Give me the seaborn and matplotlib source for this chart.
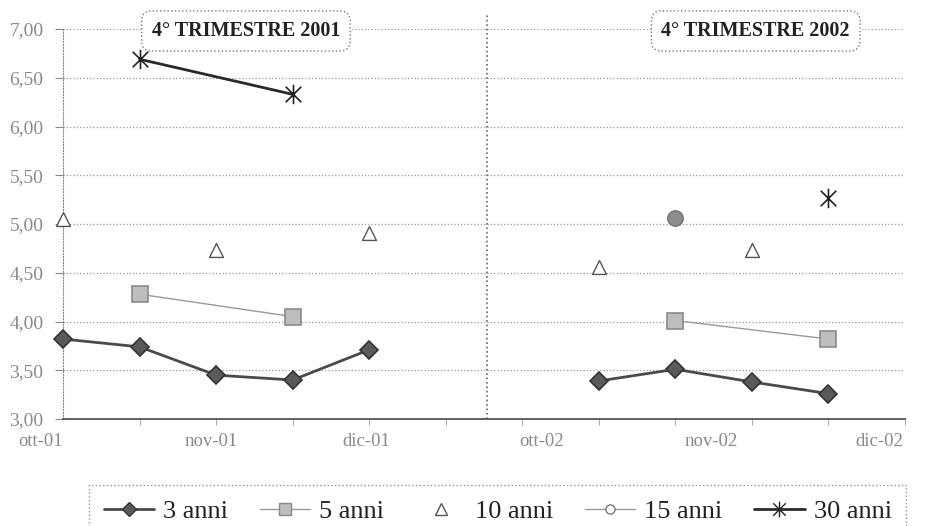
import numpy as np
import pandas as pd
import matplotlib
matplotlib.use("Agg")
import matplotlib.pyplot as plt
from matplotlib.path import Path
from matplotlib.lines import Line2D
import seaborn as sns

# ---- data ----
nan = np.nan
x_pos = [0, 1, 2, 3, 4, 7, 8, 9, 10]
panel = ["2001"] * 5 + ["2002"] * 4
anni3 = [3.82, 3.74, 3.45, 3.40, 3.71, 3.39, 3.51, 3.38, 3.26]
anni5 = [nan, 4.28, nan, 4.05, nan, nan, 4.01, nan, 3.82]
anni10 = [5.05, nan, 4.73, nan, 4.91, 4.56, nan, 4.73, nan]
anni15 = [nan, nan, nan, nan, nan, nan, 5.06, nan, nan]
anni30 = [nan, 6.69, nan, 6.33, nan, nan, nan, nan, 5.27]
series_names = ["3 anni", "5 anni", "10 anni", "15 anni", "30 anni"]
month_labels = ["ott-01", "nov-01", "dic-01", "ott-02", "nov-02", "dic-02"]
box_titles = ["4° TRIMESTRE 2001", "4° TRIMESTRE 2002"]
y_ticks = [3.0, 3.5, 4.0, 4.5, 5.0, 5.5, 6.0, 6.5, 7.0]

df = pd.DataFrame({"x": x_pos, "panel": panel,
                   "3 anni": anni3, "5 anni": anni5, "10 anni": anni10,
                   "15 anni": anni15, "30 anni": anni30})

sns.set_style("white")
plt.rcParams["font.family"] = ["Liberation Serif", "DejaVu Serif"]

ast = Path([(-1, -1), (1, 1), (-1, 1), (1, -1), (0, -1.25), (0, 1.25)],
           [Path.MOVETO, Path.LINETO, Path.MOVETO, Path.LINETO, Path.MOVETO, Path.LINETO])

styles = {
    "3 anni": dict(color="#4a4a4a", lw=2.0, marker="D", ms=9, mfc="#5a5a5a", mec="#333333", ls="-"),
    "5 anni": dict(color="#9a9a9a", lw=1.0, marker="s", ms=11, mfc="#bdbdbd", mec="#8a8a8a", ls="-"),
    "10 anni": dict(color="#555555", lw=0, marker="^", ms=10, mfc="white", mec="#555555", ls="none"),
    "15 anni": dict(color="#999999", lw=1.0, marker="o", ms=11, mfc="#8c8c8c", mec="#7a7a7a", ls="-"),
    "30 anni": dict(color="#2a2a2a", lw=2.0, marker=ast, ms=14, mfc="none", mec="#222222", ls="-"),
}

fig = plt.figure(figsize=(9.34, 5.26), dpi=100)
ax = fig.add_axes([63 / 934, 1 - 419 / 526, (905 - 63) / 934, (419 - 29) / 526])

for name in series_names:
    st = styles[name]
    for p, sub in df.groupby("panel"):
        d = sub[["x", name]].dropna()
        if d.empty:
            continue
        if st["ls"] == "none":
            sns.scatterplot(x=d["x"], y=d[name], ax=ax, marker=st["marker"], s=st["ms"] ** 2,
                            color=st["mfc"], edgecolor=st["mec"], linewidth=1.0, zorder=4,
                            legend=False, clip_on=False)
        else:
            sns.lineplot(x=d["x"], y=d[name], ax=ax, color=st["color"], lw=st["lw"],
                         marker=st["marker"], markersize=st["ms"], markerfacecolor=st["mfc"],
                         markeredgecolor=st["mec"], markeredgewidth=1.2, estimator=None,
                         zorder=4, legend=False, clip_on=False)

ax.set_xlabel("")
ax.set_ylabel("")

# y axis
ax.set_yticks(y_ticks)
ax.set_yticklabels([f"{v:.2f}".replace(".", ",") for v in y_ticks], fontsize=14, color="#8a8a8a")
ax.tick_params(axis="y", length=6, color="#888888", pad=8, left=True)
ax.yaxis.grid(True, ls=":", color="#9a9a9a", lw=0.9)
ax.xaxis.grid(False)

# x axis: minor ticks at each half-month step, labels at months
ax.set_xticks(np.arange(0, 12), minor=True)
ax.set_xticks([0.0, 1.93, 3.96, 6.25, 8.47, 10.66])
ax.set_xticklabels(month_labels, fontsize=13.5, color="#8a8a8a")
ax.get_xticklabels()[0].set_ha("right")
ax.tick_params(axis="x", which="major", length=0, pad=10)
ax.tick_params(axis="x", which="minor", length=4, color="#999999", bottom=True)
ax.set_xlim(0, 11)
ax.set_ylim(3, 7)

for s in ["top", "right"]:
    ax.spines[s].set_visible(False)
ax.spines["left"].set_linestyle(":")
ax.spines["left"].set_color("#888888")
ax.spines["bottom"].set_color("#555555")
ax.spines["bottom"].set_linewidth(1.3)

# separator line
ax.axvline(5.535, ymin=0, ymax=1.035, color="#666666", ls=":", lw=1.2, clip_on=False)

# title boxes
for t, xc in zip(box_titles, [2.39, 9.05]):
    ax.text(xc, 6.98, t, ha="center", va="center", fontsize=14.5, fontweight="bold", color="#222222",
            bbox=dict(boxstyle="round,pad=0.5", fc="white", ec="#777777", ls=":", lw=1.0), zorder=6)

# legend
handles = []
for name in series_names:
    st = styles[name]
    h = Line2D([0], [0], color=st["color"], lw=st["lw"] if st["ls"] != "none" else 0,
               ls=st["ls"], marker=st["marker"],
               markersize=st["ms"] * (0.8 if name != "15 anni" else 0.6),
               markerfacecolor=st["mfc"] if name != "15 anni" else "white",
               markeredgecolor=st["mec"])
    handles.append(h)
leg = ax.legend(handles, series_names, ncol=5, loc="upper center",
                bbox_to_anchor=(0.533, 0.078), bbox_transform=fig.transFigure,
                fontsize=19, frameon=True, fancybox=False, handlelength=1.9,
                columnspacing=1.2, handletextpad=0.35, borderpad=0.55, borderaxespad=0)
leg.get_frame().set_edgecolor("#777777")
leg.get_frame().set_linestyle(":")
for txt in leg.get_texts():
    txt.set_color("#222222")

fig.savefig("out.png", dpi=100)
